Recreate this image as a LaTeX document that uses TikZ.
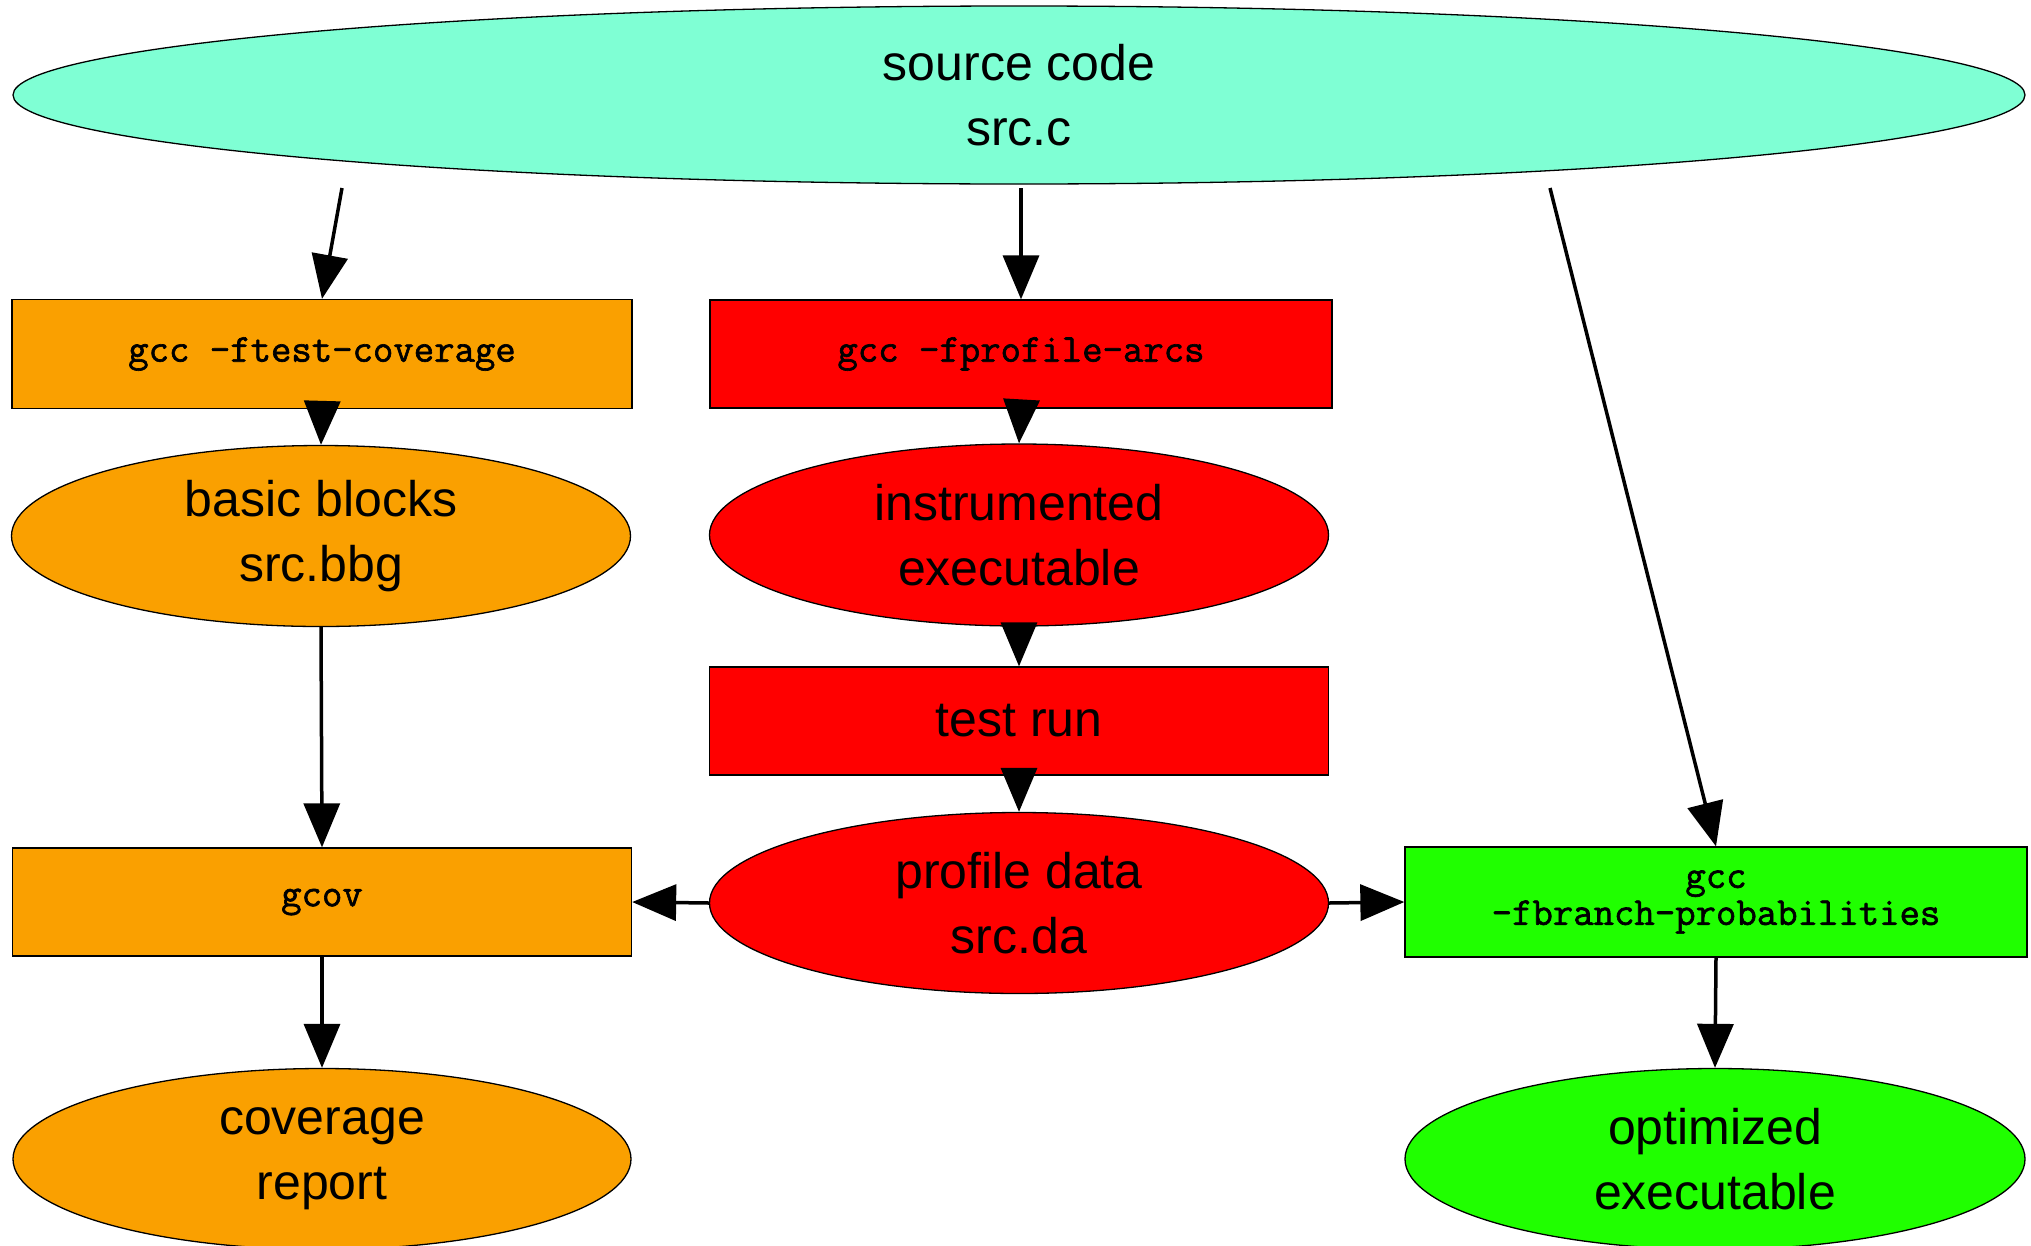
\documentclass[tikz,border=0pt]{standalone}
\usepackage{fontspec}
\setmainfont{Liberation Sans}
\newfontfamily\codefont[FakeBold=1.6]{Latin Modern Mono}
\usetikzlibrary{shapes.geometric,arrows.meta}
\definecolor{aqua}{RGB}{127,255,212}
\definecolor{orng}{RGB}{250,160,0}
\definecolor{rd}{RGB}{255,0,0}
\definecolor{grn}{RGB}{32,255,0}
\tikzset{
  base/.style={draw=black, line width=1.3pt, inner sep=0pt, align=center, text=black},
  oval/.style={base, ellipse, font=\fontsize{50}{65}\selectfont},
  cmdbox/.style={base, rectangle, font=\codefont\fontsize{39.6}{37}\selectfont},
  txtbox/.style={base, rectangle, font=\fontsize{50}{65}\selectfont},
  conn/.style={line width=3.5pt, -{Triangle[length=44pt,width=36pt]}}
}
\begin{document}
\begin{tikzpicture}[x=1pt,y=-1pt]
\useasboundingbox (0,0) rectangle (2031,1245);
\clip (0,0) rectangle (2031,1245);
% nodes
\node[oval, fill=aqua, minimum width=2012pt, minimum height=178pt] (src) at (1019,95) {source code\\src.c};
\node[cmdbox, fill=orng, minimum width=620pt, minimum height=109pt] (ftest) at (322,354) {gcc -ftest-coverage};
\node[cmdbox, fill=rd, minimum width=622pt, minimum height=108pt] (parcs) at (1021,354) {gcc -fprofile-arcs};
\node[oval, fill=orng, minimum width=619pt, minimum height=181pt] (bb) at (321,536) {basic blocks\\src.bbg};
\node[oval, fill=rd, minimum width=619pt, minimum height=182pt] (instr) at (1019,535) {instrumented\\executable};
\node[txtbox, fill=rd, minimum width=619pt, minimum height=108pt] (trun) at (1019,721) {test run};
\node[oval, fill=rd, minimum width=619pt, minimum height=181pt] (pd) at (1019,903) {profile data\\src.da};
\node[cmdbox, fill=orng, minimum width=619pt, minimum height=108pt] (gcov) at (322,902) {gcov};
\node[cmdbox, fill=grn, minimum width=622pt, minimum height=110pt] (fbr) at (1716,902) {gcc\\-fbranch-probabilities};
\node[oval, fill=orng, minimum width=618pt, minimum height=181pt] (cov) at (322,1159) {coverage\\report};
\node[oval, fill=grn, minimum width=620pt, minimum height=181pt] (opt) at (1715,1159) {optimized\\executable};
% connector starts
\coordinate (s1) at (342,188);
\coordinate (s2) at (1021,188);
\coordinate (s3) at (1550,188);
% connectors
\draw[conn] (s1) -- (ftest.north);
\draw[conn] (s2) -- (parcs.north);
\draw[conn] (s3) -- (fbr.north);
\draw[conn] (ftest.south) -- (bb.north);
\draw[conn] (parcs.south) -- (instr.north);
\draw[conn] (instr.south) -- (trun.north);
\draw[conn] (trun.south) -- (pd.north);
\draw[conn] (bb.south) -- (gcov.north);
\draw[conn] (pd.west) -- (gcov.east);
\draw[conn] (pd.east) -- (fbr.west);
\draw[conn] (gcov.south) -- (cov.north);
\draw[conn] (fbr.south) -- (opt.north);
\end{tikzpicture}
\end{document}
